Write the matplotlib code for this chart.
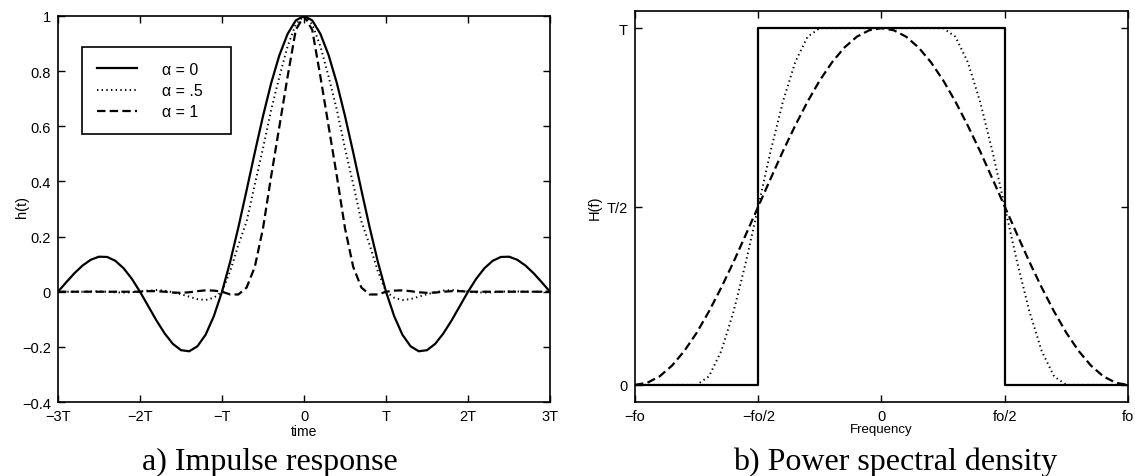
import numpy as np
import matplotlib
matplotlib.use("Agg")
import matplotlib.pyplot as plt

plt.rcParams['font.family'] = ['Liberation Sans', 'DejaVu Sans']

# Impulse response h(t), sampled every 0.1T from -3T to 3T
time = np.linspace(-3, 3, 61)
h_a0 = [0.0, 0.034, 0.067, 0.095, 0.116, 0.127, 0.126, 0.112, 0.085, 0.047,
        0.0, -0.052, -0.104, -0.151, -0.189, -0.212, -0.216, -0.198, -0.156, -0.089,
        0.0, 0.109, 0.234, 0.368, 0.505, 0.637, 0.757, 0.858, 0.935, 0.984,
        1.0,
        0.984, 0.935, 0.858, 0.757, 0.637, 0.505, 0.368, 0.234, 0.109, 0.0,
        -0.089, -0.156, -0.198, -0.216, -0.212, -0.189, -0.151, -0.104, -0.052, 0.0,
        0.047, 0.085, 0.112, 0.126, 0.127, 0.116, 0.095, 0.067, 0.034, 0.0]
h_a05 = [0.0, 0.0, 0.0, 0.0, 0.001, 0.001, 0.0, -0.002, -0.003, -0.002,
         0.001, 0.004, 0.006, 0.004, -0.002, -0.009, -0.018, -0.027, -0.030, -0.022,
         0.0, 0.075, 0.17, 0.255, 0.39, 0.52, 0.66, 0.78, 0.89, 0.97,
         1.0,
         0.97, 0.89, 0.78, 0.66, 0.52, 0.39, 0.255, 0.17, 0.075, 0.0,
         -0.022, -0.030, -0.027, -0.018, -0.009, -0.002, 0.004, 0.006, 0.004, 0.001,
         -0.002, -0.003, -0.002, 0.0, 0.001, 0.001, 0.0, 0.0, 0.0, 0.0]
h_a1 = [0.0, 0.0, 0.0, 0.0, 0.0, 0.0, 0.0, 0.0, 0.0, 0.0,
        0.0, 0.002, 0.002, 0.0, -0.003, -0.004, -0.002, 0.002, 0.005, 0.004,
        0.0, -0.010, -0.010, 0.015, 0.09, 0.23, 0.42, 0.60, 0.78, 0.95,
        1.0,
        0.95, 0.78, 0.60, 0.42, 0.23, 0.09, 0.015, -0.010, -0.010, 0.0,
        0.004, 0.005, 0.002, -0.002, -0.004, -0.003, 0.0, 0.002, 0.002, 0.0,
        0.0, 0.0, 0.0, 0.0, 0.0, 0.0, 0.0, 0.0, 0.0, 0.0]
time_ticks = [-3, -2, -1, 0, 1, 2, 3]
time_labels = ['\u22123T', '\u22122T', '\u2212T', '0', 'T', '2T', '3T']
h_ticks = [-0.4, -0.2, 0, 0.2, 0.4, 0.6, 0.8, 1]
h_labels = ['\u22120.4', '\u22120.2', '0', '0.2', '0.4', '0.6', '0.8', '1']
legend_labels = ['\u03b1 = 0   ', '\u03b1 = .5   ', '\u03b1 = 1   ']

# Power spectral density H(f), sampled every 0.05 fo
freq = np.linspace(-1, 1, 41)
rect_f = [-1, -0.5, -0.5, 0.5, 0.5, 1]
rect_H = [0, 0, 1, 1, 0, 0]
H_a05 = [0, 0, 0, 0, 0, 0, 0.024, 0.095, 0.206, 0.345,
         0.5, 0.655, 0.794, 0.905, 0.976, 1, 1, 1, 1, 1,
         1,
         1, 1, 1, 1, 1, 0.976, 0.905, 0.794, 0.655, 0.5,
         0.345, 0.206, 0.095, 0.024, 0, 0, 0, 0, 0, 0]
H_a1 = [0.0, 0.006, 0.024, 0.054, 0.095, 0.146, 0.206, 0.273, 0.345, 0.422,
        0.5, 0.578, 0.655, 0.727, 0.794, 0.854, 0.905, 0.946, 0.976, 0.994,
        1.0,
        0.994, 0.976, 0.946, 0.905, 0.854, 0.794, 0.727, 0.655, 0.578, 0.5,
        0.422, 0.345, 0.273, 0.206, 0.146, 0.095, 0.054, 0.024, 0.006, 0.0]
freq_ticks = [-1, -0.5, 0, 0.5, 1]
freq_labels = ['\u2212fo', '\u2212fo/2', '0', 'fo/2', 'fo']
H_ticks = [0, 0.5, 1]
H_labels = ['0', 'T/2', 'T']

fig = plt.figure(figsize=(11.35, 4.77), dpi=100)
ax1 = fig.add_axes([0.0511, 0.1551, 0.4335, 0.8093])
ax2 = fig.add_axes([0.5595, 0.1551, 0.4343, 0.8197])

dash = (3.8, 1.9)
dots = (0.7, 1.7)

# a) impulse response
ax1.plot(time, h_a0, color='black', lw=1.6, label=legend_labels[0])
ax1.plot(time, h_a05, color='black', lw=1.4, dashes=dots, label=legend_labels[1])
ax1.plot(time, h_a1, color='black', lw=1.6, dashes=dash, label=legend_labels[2])
ax1.set_xlim(-3, 3)
ax1.set_ylim(-0.4, 1)
ax1.set_xticks(time_ticks)
ax1.set_xticklabels(time_labels)
ax1.set_yticks(h_ticks)
ax1.set_yticklabels(h_labels)
ax1.set_xlabel('time', fontsize=10, labelpad=1)
ax1.set_ylabel('h(t)', fontsize=10.5)
ax1.yaxis.set_label_coords(-0.059, 0.508)
leg = ax1.legend(loc='upper left', bbox_to_anchor=(0.049, 0.92), fontsize=11.5,
                 fancybox=False, framealpha=1, edgecolor='black',
                 handlelength=2.5, handletextpad=1.55, borderpad=0.95,
                 labelspacing=0.38, borderaxespad=0)
leg.get_frame().set_linewidth(1.2)

# b) power spectral density
ax2.plot(rect_f, rect_H, color='black', lw=1.6)
ax2.plot(freq, H_a05, color='black', lw=1.4, dashes=dots)
ax2.plot(freq, H_a1, color='black', lw=1.6, dashes=dash)
ax2.set_xlim(-1, 1)
ax2.set_ylim(-0.048, 1.048)
ax2.set_xticks(freq_ticks)
ax2.set_xticklabels(freq_labels)
ax2.set_yticks(H_ticks)
ax2.set_yticklabels(H_labels)
ax2.set_xlabel('Frequency', fontsize=9.5, labelpad=0)
ax2.set_ylabel('H(f)', fontsize=10.5)
ax2.yaxis.set_label_coords(-0.067, 0.50)

for ax in [ax1, ax2]:
    for pos in ax.spines:
        ax.spines[pos].set_linewidth(1.2)
    ax.tick_params(direction='in', top=True, right=True, length=5,
                   width=1, labelsize=10.5, pad=5, colors='black')

fig.text(0.238, 0.0147, 'a) Impulse response', fontsize=23,
         family=['Liberation Serif', 'DejaVu Serif'], ha='center', va='baseline')
fig.text(0.789, 0.0147, 'b) Power spectral density', fontsize=23,
         family=['Liberation Serif', 'DejaVu Serif'], ha='center', va='baseline')

fig.savefig('out.png', dpi=100)
